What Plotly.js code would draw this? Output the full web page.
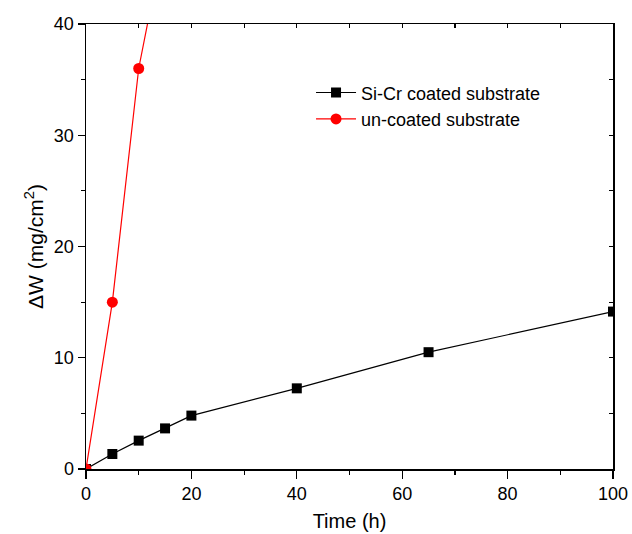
<!DOCTYPE html>
<html>
<head>
<meta charset="utf-8">
<script src="https://cdn.plot.ly/plotly-3.0.1.min.js"></script>
<style>
  html, body { margin: 0; padding: 0; background: #fff; }
  #chart { width: 632px; height: 534px; }
</style>
</head>
<body>
<div id="chart"></div>
<script>
// Oxidation mass gain over time
const coatedTime = [0, 5, 10, 15, 20, 40, 65, 100];
const coatedGain = [0, 1.35, 2.55, 3.65, 4.8, 7.25, 10.5, 14.15];
const bareTime = [0, 5, 10, 15];
const bareGain = [0, 15, 36, 48];

const seriesNames = ['Si-Cr coated substrate', 'un-coated substrate'];
const xTicks = [0, 20, 40, 60, 80, 100];
const yTicks = [0, 10, 20, 30, 40];

const font = { family: 'Liberation Sans, Arial, sans-serif', color: '#000' };

const traces = [
  {
    x: coatedTime, y: coatedGain, name: seriesNames[0],
    mode: 'lines+markers', type: 'scatter',
    line: { color: '#000', width: 1.2 },
    marker: { symbol: 'square', size: 10, color: '#000' }
  },
  {
    x: bareTime, y: bareGain, name: seriesNames[1],
    mode: 'lines+markers', type: 'scatter',
    line: { color: '#ff0000', width: 1.2 },
    marker: { symbol: 'circle', size: 11, color: '#ff0000' }
  }
];

const axisCommon = {
  showgrid: false, zeroline: false, showline: true,
  linecolor: '#000', linewidth: 1.5,
  tickcolor: '#000', tickwidth: 1.2
};

const layout = {
  width: 632, height: 534,
  margin: { l: 86, r: 19, t: 24, b: 65 },
  paper_bgcolor: '#fff', plot_bgcolor: '#fff',
  font: Object.assign({ size: 18 }, font),
  showlegend: true,
  legend: {
    x: 0.427, y: 0.887, xanchor: 'left', yanchor: 'top',
    bgcolor: 'rgba(0,0,0,0)', font: Object.assign({ size: 18 }, font),
    itemwidth: 40
  },
  xaxis: Object.assign({}, axisCommon, {
    range: [0, 100], tickvals: xTicks, ticktext: xTicks.map(String),
    ticks: 'outside', ticklen: 8,
    tickfont: Object.assign({ size: 18 }, font),
    minor: { dtick: 10, tick0: 0, ticks: 'outside', ticklen: 4, tickcolor: '#000', tickwidth: 1.2 },
    title: { text: 'Time (h)', font: Object.assign({ size: 20 }, font), standoff: 11 }
  }),
  yaxis: Object.assign({}, axisCommon, {
    range: [0, 40], tickvals: yTicks, ticktext: yTicks.map(String),
    ticks: 'outside', ticklen: 7,
    tickfont: Object.assign({ size: 18 }, font),
    minor: { dtick: 5, tick0: 0, ticks: 'outside', ticklen: 4, tickcolor: '#000', tickwidth: 1.2 },
    title: { text: 'ΔW (mg/cm<sup>2</sup>)', font: Object.assign({ size: 21 }, font), standoff: 4 }
  }),
  xaxis2: Object.assign({}, axisCommon, {
    overlaying: 'x', side: 'top', range: [0, 100], matches: 'x',
    tickvals: [0, 10, 20, 30, 40, 50, 60, 70, 80, 90, 100],
    ticks: 'inside', ticklen: 4, showticklabels: false
  }),
  yaxis2: Object.assign({}, axisCommon, {
    overlaying: 'y', side: 'right', range: [0, 40],
    tickvals: [0, 5, 10, 15, 20, 25, 30, 35, 40],
    ticks: 'inside', ticklen: 4, showticklabels: false
  })
};

// Invisible trace so the mirrored top/right axes get drawn
traces.push({
  x: [0], y: [0], xaxis: 'x2', yaxis: 'y2', mode: 'markers',
  marker: { opacity: 0 }, showlegend: false, hoverinfo: 'skip'
});

Plotly.newPlot('chart', traces, layout, { staticPlot: true });
</script>
</body>
</html>
